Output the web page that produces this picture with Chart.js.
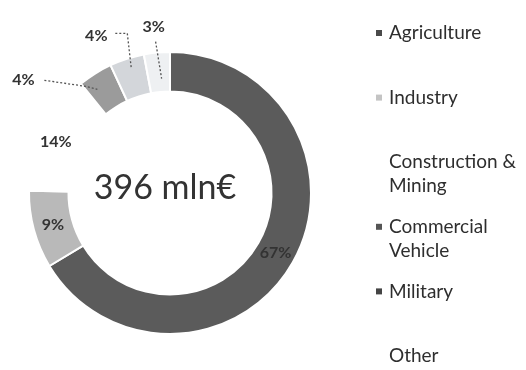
<!DOCTYPE html>
<html>
<head>
<meta charset="utf-8">
<script src="https://cdn.jsdelivr.net/npm/chart.js@4"></script>
<style>
  html, body { margin: 0; padding: 0; background: #fff; }
  #wrap { width: 526px; height: 370px; }
</style>
</head>
<body>
<div id="wrap"><canvas id="mixChart" width="526" height="370"></canvas></div>
<script>
const sectors = ['Agriculture', 'Industry', 'Construction & Mining', 'Commercial Vehicle', 'Military', 'Other'];
const legendLines = [['Agriculture'], ['Industry'], ['Construction &', 'Mining'], ['Commercial', 'Vehicle'], ['Military'], ['Other']];
const shares = [67, 9, 14, 4, 4, 3];
const totalLabel = '396 mln€';

const fills = ['#5b5b5b', '#b9b9b9', '#ffffff', '#9b9b9b', '#d3d6da', '#eef0f2'];
const markerFills = ['#4a4a4a', '#c4c4c4', null, '#555555', '#444444', null];
// label placement: 'in' = middle of ring, otherwise offset from the outer edge
const labelMode = ['in', 'in', 'in', 'out', 'out', 'out'];
const labelOffsets = [null, null, null, [-76, 0], [-33, -31], [-4, -34]];
const FONT = 'Lato, "Open Sans", sans-serif';

const overlay = {
  id: 'overlay',
  afterDatasetsDraw(chart) {
    const ctx = chart.ctx;
    const meta = chart.getDatasetMeta(0);
    ctx.save();

    // percentage labels
    meta.data.forEach((arc, i) => {
      const p = arc.getProps(['x', 'y', 'startAngle', 'endAngle', 'innerRadius', 'outerRadius'], true);
      const mid = (p.startAngle + p.endAngle) / 2;
      const txt = shares[i] + '%';
      ctx.font = 'bold 16px ' + FONT;
      ctx.fillStyle = '#333';
      ctx.textAlign = 'center';
      ctx.textBaseline = 'middle';
      if (labelMode[i] === 'in') {
        const r = (p.innerRadius + p.outerRadius) / 2;
        let dx = 0, dy = 0;
        if (i === 2) { dx = -5; dy = 2; }
        ctx.fillText(txt, p.x + Math.cos(mid) * r + dx, p.y + Math.sin(mid) * r + dy);
      } else {
        const r = p.outerRadius - 8;
        const ex = p.x + Math.cos(mid) * r, ey = p.y + Math.sin(mid) * r;
        const lx = ex + labelOffsets[i][0], ly = ey + labelOffsets[i][1];
        ctx.fillText(txt, lx, ly);
        ctx.strokeStyle = '#555';
        ctx.lineWidth = 1.3;
        ctx.setLineDash([2, 2]);
        ctx.beginPath();
        if (i === 3) {
          ctx.moveTo(lx + 21, ly);
          ctx.lineTo(ex - 14, ey + 6);
          ctx.lineTo(ex - 2, ey + 9);
        } else if (i === 4) {
          ctx.moveTo(lx + 19, ly - 2);
          ctx.lineTo(lx + 31, ly - 2);
          ctx.lineTo(ex + 2, ey + 2);
        } else {
          ctx.moveTo(lx + 2, ly + 15);
          ctx.lineTo(ex + 4, ey + 18);
        }
        ctx.stroke();
        ctx.setLineDash([]);
      }
    });

    // centre total
    const a0 = meta.data[0];
    ctx.font = '34px ' + FONT;
    ctx.fillStyle = '#333';
    ctx.textAlign = 'center';
    ctx.textBaseline = 'middle';
    ctx.fillText(totalLabel, a0.x - 5, a0.y - 5);

    // legend
    const lx = 379, ly0 = 33, step = 64.6, lineH = 24;
    legendLines.forEach((lines, i) => {
      const y = ly0 + i * step;
      if (markerFills[i]) {
        ctx.fillStyle = markerFills[i];
        ctx.fillRect(lx - 3, y - 3, 6, 6);
      }
      ctx.font = '19px ' + FONT;
      ctx.fillStyle = '#2e2e2e';
      ctx.textAlign = 'left';
      ctx.textBaseline = 'middle';
      lines.forEach((t, k) => ctx.fillText(t, lx + 10, y + k * lineH));
    });
    ctx.restore();
  }
};

new Chart(document.getElementById('mixChart').getContext('2d'), {
  type: 'doughnut',
  data: {
    labels: sectors,
    datasets: [{
      data: shares,
      backgroundColor: fills,
      borderColor: '#ffffff',
      borderWidth: 2
    }]
  },
  options: {
    responsive: false,
    animation: false,
    cutout: '72%',
    layout: { padding: { left: 28, right: 214, top: 51, bottom: 35 } },
    plugins: {
      legend: { display: false },
      tooltip: { enabled: false }
    }
  },
  plugins: [overlay]
});
</script>
</body>
</html>
